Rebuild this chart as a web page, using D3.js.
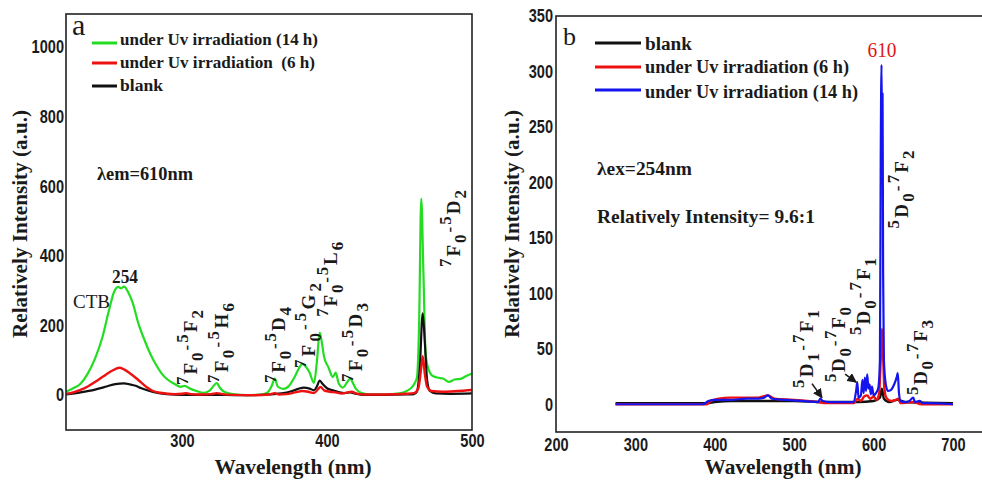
<!DOCTYPE html>
<html>
<head>
<meta charset="utf-8">
<script src="https://cdn.jsdelivr.net/npm/d3@7"></script>
<style>
  html, body { margin: 0; padding: 0; background: #fff; }
  svg { display: block; }
  text { white-space: pre; }
</style>
</head>
<body>
<svg id="chart" width="982" height="483"></svg>
<script>
// ---- Panel a: excitation spectra (λem = 610 nm) ----
const excUv14h = [[220,10],[225,20],[230,33],[235,62],[240,105],[245,165],[250,250],[253,295],[256,311],[258,307],[260,312],[263,295],[266,265],[270,205],[274,160],[278,120],[282,88],[286,62],[290,45],[295,32],[299,24],[302,27],[305,20],[310,12],[315,7],[319,13],[322,28],[324,35],[326,22],[329,10],[335,3],[345,0],[355,2],[359,8],[362,28],[364,48],[366,25],[370,18],[374,28],[378,55],[381,80],[383,90],[385,84],[388,65],[391,35],[393,95],[395,180],[396.5,150],[398,110],[401,80],[404,52],[406,65],[408,35],[411,22],[414,38],[416,48],[418,34],[420,18],[424,6],[430,2],[440,2],[450,5],[455,12],[459,25],[462,50],[463.5,200],[465,565],[466.5,350],[468,120],[470,75],[473,55],[477,50],[480,48],[484,38],[488,45],[492,47],[496,55],[500,62]];
const excUv6h = [[220,4],[225,8],[230,15],[235,25],[240,38],[245,52],[250,66],[254,75],[257,79],[260,74],[264,63],[268,50],[272,36],[276,22],[280,12],[285,7],[290,4],[295,3],[300,4],[303,6],[306,3],[312,2],[320,3],[324,6],[328,3],[335,1],[350,0],[360,2],[364,6],[367,2],[372,3],[378,8],[383,12],[387,10],[391,6],[394,18],[395.5,24],[398,14],[402,10],[406,8],[410,5],[414,8],[417,10],[420,5],[425,2],[440,2],[455,4],[460,6],[463,20],[465,80],[466,112],[467.5,60],[469,25],[472,12],[480,10],[490,12],[500,15]];
const excBlank = [[220,2],[230,8],[240,16],[248,25],[254,32],[260,34],[264,31],[268,27],[272,20],[276,14],[280,9],[285,5],[290,3],[300,1],[320,1],[340,0],[360,2],[365,4],[370,6],[376,12],[380,18],[384,22],[388,19],[391,14],[393,25],[395,42],[397,32],[400,20],[404,14],[408,9],[412,6],[416,8],[420,4],[425,1],[440,1],[455,2],[460,3],[462,10],[464,80],[466,235],[467.5,150],[469,45],[471,12],[475,5],[485,4],[500,5]];
const excXTicks = [300, 400, 500];
const excYTicks = [0, 200, 400, 600, 800, 1000];

// ---- Panel b: emission spectra (λex = 254 nm) ----
const emBlank = [[275,1],[300,1],[350,1],[390,1],[400,2],[420,3],[460,3],[480,3],[500,3],[540,2],[580,2],[600,3],[608,6],[610.5,14],[613,5],[620,2],[630,4],[640,2],[700,1]];
const emUv6h = [[275,0],[330,0],[390,0],[395,3],[405,5],[420,6],[440,6],[455,6],[467,8],[475,5],[500,4],[530,2],[540,1],[575,1],[580,5],[584,3],[588,7],[592,8],[596,5],[600,7],[604,4],[607,10],[609,40],[610.5,68],[612,45],[613.5,15],[616,6],[622,3],[628,4],[631,5],[634,1],[650,2],[660,0],[700,0]];
const emUv14h = [[275,0],[300,0],[330,0],[360,0],[385,0],[392,3],[400,4],[420,4],[440,5],[455,5],[462,6],[467,8],[472,5],[490,4],[510,3],[530,2],[533,5],[536,3],[545,2],[560,2],[575,2],[578,12],[579.5,20],[581,6],[584,8],[586,22],[587.5,10],[589,24],[590.5,12],[592,27],[593.5,14],[595,18],[596.5,9],[598,16],[600,8],[603,10],[606,15],[608,40],[609,220],[610,306],[610.7,230],[611.3,280],[612,120],[613,40],[615,20],[618,12],[622,13],[626,18],[629,24],[630.5,28],[632,10],[634,3],[640,2],[645,3],[650,6],[652,2],[658,3],[662,1],[670,1],[700,0]];
const emXTicks = [200, 300, 400, 500, 600, 700];
const emYTicks = [0, 50, 100, 150, 200, 250, 300, 350];

// Transition labels: [upper index, term, lower index, upper index, term, lower index], anchored in data units
const excTransitions = [
  { parts: ["7","F","0","5","F","2"], at: [310.3, 29] },
  { parts: ["7","F","0","5","H","6"], at: [331.7, 35] },
  { parts: ["7","F","0","5","D","4"], at: [371, 35] },
  { parts: ["7","F","0","5","G","2"], at: [391.7, 78] },
  { parts: ["7","F","0","5","L","6"], at: [406.9, 225] },
  { parts: ["7","F","0","5","D","3"], at: [424.1, 38] },
  { parts: ["7","F","0","5","D","2"], at: [491.7, 368] }
];
const emTransitions = [
  { parts: ["5","D","1","7","F","1"], at: [523.7, 14.7] },
  { parts: ["5","D","0","7","F","0"], at: [564, 20] },
  { parts: ["5","D","0","7","F","1"], at: [595.5, 62.5] },
  { parts: ["5","D","0","7","F","2"], at: [643.3, 158.5] },
  { parts: ["5","D","0","7","F","3"], at: [667.3, 8.4] }
];
// arrows point at the weak 5D1-7F1 and 5D0-7F0 bands
const emArrowTargets = [[535, 6], [578, 20]];

const svg = d3.select("#chart");
const ink = "#1a1a1a";
const serif = "'Liberation Serif', 'Times New Roman', serif";
const sans = "'Liberation Sans', Arial, sans-serif";

function panel(opts) {
  const x = d3.scaleLinear().domain(opts.xDomain).range([opts.left, opts.right]);
  const y = d3.scaleLinear().domain(opts.yDomain).range([opts.bottom, opts.top]);
  const g = svg.append("g");
  const clipId = "clip-" + opts.id;
  svg.append("clipPath").attr("id", clipId).append("rect")
    .attr("x", opts.left).attr("y", opts.top)
    .attr("width", opts.right - opts.left).attr("height", opts.bottom - opts.top);

  // axes (labels only, no tick marks); condensed bold digits
  const yAxis = g.append("g").attr("transform", `translate(${opts.left},0)`)
    .call(d3.axisLeft(y).tickValues(opts.yTicks).tickSize(0).tickPadding(opts.yPad).tickFormat(d3.format("d")));
  const xAxis = g.append("g").attr("transform", `translate(0,${opts.bottom})`)
    .call(d3.axisBottom(x).tickValues(opts.xTicks).tickSize(0).tickPadding(opts.xPad).tickFormat(d3.format("d")));
  [yAxis, xAxis].forEach(a => {
    a.select(".domain").remove();
    a.selectAll("text").attr("font-family", sans).attr("font-weight", "bold")
      .attr("font-size", 18).attr("fill", ink)
      .attr("textLength", function () { return this.textContent.length * 8.1; })
      .attr("lengthAdjust", "spacingAndGlyphs");
  });

  // spectra
  const line = d3.line().x(d => x(d[0])).y(d => y(d[1])).curve(d3.curveMonotoneX);
  const lines = g.append("g").attr("clip-path", `url(#${clipId})`);
  opts.series.forEach(s => {
    lines.append("path").datum(s.data).attr("d", line)
      .attr("fill", "none").attr("stroke", s.color).attr("stroke-width", s.width)
      .attr("stroke-linejoin", "round");
  });

  // frame
  g.append("rect").attr("x", opts.left).attr("y", opts.top)
    .attr("width", opts.right - opts.left).attr("height", opts.bottom - opts.top)
    .attr("fill", "none").attr("stroke", "#222").attr("stroke-width", 1.6);

  return { x, y, g };
}

function transitionLabel(g, px, py, parts, len) {
  const t = g.append("text")
    .attr("transform", `translate(${px},${py}) rotate(-90)`)
    .attr("font-family", serif).attr("font-weight", "bold").attr("fill", ink)
    .attr("font-size", 19);
  const [a, b, c, d, e, f] = parts;
  t.append("tspan").attr("font-size", 17).attr("dy", -9).text(a);
  t.append("tspan").attr("dy", 9).text(b);
  t.append("tspan").attr("font-size", 17).attr("dy", 6).text(c);
  t.append("tspan").attr("font-size", 17).attr("dy", -11).text("-");
  t.append("tspan").attr("font-size", 17).attr("dy", -4).text(d);
  t.append("tspan").attr("dy", 9).text(e);
  t.append("tspan").attr("font-size", 17).attr("dy", 6).text(f);
  if (len) t.attr("textLength", len).attr("lengthAdjust", "spacing");
}

function label(g, x, y, txt, size, opts = {}) {
  const t = g.append("text").attr("x", x).attr("y", y).text(txt)
    .attr("font-family", serif).attr("font-size", size)
    .attr("font-weight", opts.weight || "bold").attr("fill", opts.color || ink);
  if (opts.anchor) t.attr("text-anchor", opts.anchor);
  if (opts.len) t.attr("textLength", opts.len).attr("lengthAdjust", "spacingAndGlyphs");
  return t;
}

// ---------- Panel a ----------
const A = panel({
  id: "a", left: 66, right: 472, top: 14, bottom: 430,
  xDomain: [220, 500], yDomain: [-100, 1095],
  xTicks: excXTicks, yTicks: excYTicks, yPad: 2, xPad: 4,
  series: [
    { data: excUv14h, color: "#22dd22", width: 2.2 },
    { data: excBlank, color: "#111111", width: 2.2 },
    { data: excUv6h, color: "#ee1111", width: 2.4 }
  ]
});
label(A.g, 72, 35, "a", 30, { weight: "normal" });
[["#22dd22", 43, 45, "under Uv irradiation (14 h)", 198],
 ["#ee1111", 63, 68, "under Uv irradiation  (6 h)", 195],
 ["#111111", 86, 91, "blank", 43]].forEach(([c, ly, ty, txt, len]) => {
  A.g.append("line").attr("x1", 92).attr("x2", 117).attr("y1", ly).attr("y2", ly)
    .attr("stroke", c).attr("stroke-width", 3);
  label(A.g, 120, ty, txt, 17, { len });
});
label(A.g, 97, 180, "λem=610nm", 18, { len: 96 });
label(A.g, 112, 283, "254", 18, { len: 26 });
label(A.g, 73, 308, "CTB", 19, { weight: "normal", len: 37 });
const excLens = [75, 80, 76, 85, 75, 79, 77];
excTransitions.forEach((t, i) => transitionLabel(A.g, A.x(t.at[0]), A.y(t.at[1]), t.parts, excLens[i]));
label(A.g, 293, 474, "Wavelength (nm)", 21, { anchor: "middle", len: 157 });
A.g.append("text").attr("transform", "translate(27,224) rotate(-90)")
  .attr("text-anchor", "middle").attr("font-family", serif).attr("font-weight", "bold")
  .attr("font-size", 21).attr("fill", ink).attr("textLength", 228).attr("lengthAdjust", "spacingAndGlyphs")
  .text("Relatively Intensity (a.u.)");

// ---------- Panel b ----------
const B = panel({
  id: "b", left: 556, right: 986, top: 16, bottom: 432,
  xDomain: [200, 741.6], yDomain: [-25, 350],
  xTicks: emXTicks, yTicks: emYTicks, yPad: 3, xPad: 6,
  series: [
    { data: emBlank, color: "#111111", width: 2.4 },
    { data: emUv6h, color: "#ee1111", width: 2.4 },
    { data: emUv14h, color: "#1414ee", width: 2.2 }
  ]
});
label(B.g, 563, 45, "b", 26, { weight: "normal" });
[["#111111", 43, 50, "blank", 47],
 ["#ee1111", 67, 73, "under Uv irradiation (6 h)", 204],
 ["#1414ee", 90, 98, "under Uv irradiation (14 h)", 213]].forEach(([c, ly, ty, txt, len]) => {
  B.g.append("line").attr("x1", 595).attr("x2", 641).attr("y1", ly).attr("y2", ly)
    .attr("stroke", c).attr("stroke-width", 3);
  label(B.g, 645, ty, txt, 18, { len });
});
label(B.g, 882, 57, "610", 20, { anchor: "middle", color: "#e01414", weight: "normal", len: 29 });
label(B.g, 597, 175, "λex=254nm", 19, { len: 95 });
label(B.g, 597, 223, "Relatively Intensity= 9.6:1", 19, { len: 218 });
const emLens = [78, 75, 77, 78, 75];
emTransitions.forEach((t, i) => transitionLabel(B.g, B.x(t.at[0]), B.y(t.at[1]), t.parts, emLens[i]));

// arrows
const defs = svg.append("defs");
defs.append("marker").attr("id", "arrowHead").attr("viewBox", "0 0 10 10")
  .attr("refX", 9).attr("refY", 5).attr("markerWidth", 6).attr("markerHeight", 6)
  .attr("orient", "auto").append("path").attr("d", "M0,0 L10,5 L0,10 z").attr("fill", ink);
const arrowTails = [[-10, -14], [-11, -8]];
emArrowTargets.forEach((p, i) => {
  const tx = B.x(p[0]), ty = B.y(p[1]);
  B.g.append("line").attr("x1", tx + arrowTails[i][0]).attr("y1", ty + arrowTails[i][1])
    .attr("x2", tx).attr("y2", ty).attr("stroke", ink).attr("stroke-width", 1.6)
    .attr("marker-end", "url(#arrowHead)");
});

label(B.g, 783, 474, "Wavelength (nm)", 21, { anchor: "middle", len: 157 });
B.g.append("text").attr("transform", "translate(519,224) rotate(-90)")
  .attr("text-anchor", "middle").attr("font-family", serif).attr("font-weight", "bold")
  .attr("font-size", 21).attr("fill", ink).attr("textLength", 228).attr("lengthAdjust", "spacingAndGlyphs")
  .text("Relatively Intensity (a.u.)");
</script>
</body>
</html>
